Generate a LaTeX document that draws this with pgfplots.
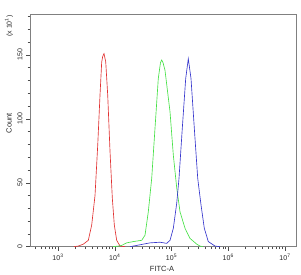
\documentclass[border=0pt]{standalone}
\usepackage{pgfplots}
\pgfplotsset{compat=1.18}
\usepackage{fontspec}
\setmainfont{Liberation Sans}
\definecolor{cred}{RGB}{225,50,50}
\definecolor{cgreen}{RGB}{70,225,70}
\definecolor{cblue}{RGB}{55,55,205}
\begin{document}
\begin{tikzpicture}
\begin{axis}[
  scale only axis,
  width=266.7pt, height=232.7pt,
  xmode=log,
  xmin=321, xmax=1.607e7,
  ymin=0, ymax=182,
  xtick={1000,10000,100000,1000000,10000000},
  xticklabels={10\textsuperscript{3},10\textsuperscript{4},10\textsuperscript{5},10\textsuperscript{6},10\textsuperscript{7}},
  minor xtick={400,500,600,700,800,900,2000,3000,4000,5000,6000,7000,8000,9000,20000,30000,40000,50000,60000,70000,80000,90000,200000,300000,400000,500000,600000,700000,800000,900000,2000000,3000000,4000000,5000000,6000000,7000000,8000000,9000000},
  ytick={0,50,100,150},
  minor ytick={10,20,30,40,60,70,80,90,110,120,130,140,160,170,180},
  tick align=outside,
  xtick pos=bottom, ytick pos=left,
  major tick length=4pt, minor tick length=2.5pt,
  tick style={black!70, line width=0.5pt},
  axis line style={black!50, line width=0.9pt},
  tick label style={font=\fontsize{7}{8}\selectfont, text=black!85},
  yticklabel style={rotate=90, anchor=south},
  /pgf/number format/assume math mode=true,
  xlabel={FITC-A}, ylabel={Count},
  label style={font=\fontsize{7.5}{9}\selectfont, text=black!85},
  xlabel style={at={(rel axis cs:0.495,-0.0958)}, anchor=center},
  ylabel style={at={(rel axis cs:-0.0787,0.53)}, anchor=center},
  every axis plot/.append style={line width=0.65pt},
  clip=true,
]
\coordinate (bl) at (rel axis cs:0,0);
\coordinate (tl) at (rel axis cs:0,1);
% red
\addplot[cred] coordinates {
(1900,0) (2281,0.5) (2793,2) (3420,5) (3926,17) (4487,40) (5012,79.5) (5495,118.5) (5888,144.5) (6150,149) (6471,151) (6934,144.5) (7516,118.5) (8241,75) (9057,38) (9817,17) (10816,5) (12388,0.5) (15171,0)
};
% green
\addplot[cgreen] coordinates {
(9311,0) (11561,0.5) (13243,1) (16241,3) (21232,4) (29854,5) (34131,9) (39011,27.3) (44771,53.4) (51167,92.5) (58479,131.5) (63973,144) (67150,146) (70795,144) (76774,138) (94120,105.5) (107647,71.6) (123595,46) (141254,27.3) (172982,14.4) (211836,6.5) (277971,2) (317687,0.5) (358922,0)
};
% blue
\addplot[cblue] coordinates {
(18578,0) (27861,1.5) (41783,3) (62661,3.5) (82224,2.6) (94189,5) (107647,14.4) (123595,34) (135519,53.4) (154882,92.5) (177828,131.5) (197697,147) (220635,131.5) (252348,92.5) (289734,53.4) (331131,32.6) (378443,14.4) (444631,4) (584790,0.5) (716143,0)
};
\end{axis}
\node[rotate=90, anchor=east, font=\fontsize{7}{8}\selectfont, text=black!85] at ([xshift=-21pt, yshift=2pt]tl) {(x 10\textsuperscript{1})};
\path (bl) ++(-30pt,-28.3pt) rectangle ++(301pt,275pt);
\end{tikzpicture}
\end{document}
